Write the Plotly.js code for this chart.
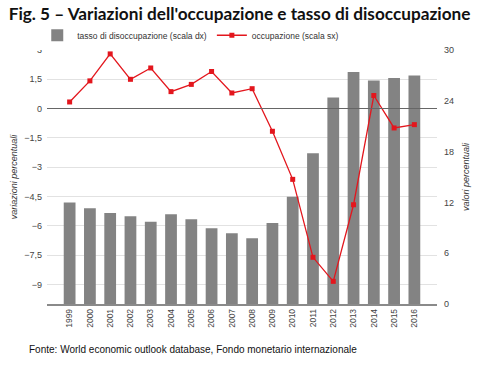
<!DOCTYPE html>
<html>
<head>
<meta charset="utf-8">
<script src="https://cdn.plot.ly/plotly-3.0.1.min.js"></script>
<style>html,body{margin:0;padding:0;background:#fff;}#chart{width:482px;height:368px;}</style>
</head>
<body>
<div id="chart"></div>
<script>
var years = ["1999","2000","2001","2002","2003","2004","2005","2006","2007","2008","2009","2010","2011","2012","2013","2014","2015","2016"];
var disoccupazione = [12.0,11.3,10.75,10.36,9.72,10.59,10.0,8.94,8.35,7.76,9.57,12.67,17.8,24.4,27.4,26.4,26.7,27.0];
var occupazione = [0.34,1.42,2.8,1.5,2.08,0.87,1.24,1.9,0.8,1.02,-1.16,-3.62,-7.61,-8.84,-4.92,0.67,-0.99,-0.82];
var leftTicks = [3,1.5,0,-1.5,-3,-4.5,-6,-7.5,-9];
var rightTicks = [0,6,12,18,24,30];

var tickFont = {family:"Liberation Sans, Arial, sans-serif", size:9, color:"#444"};
var titleFont = {family:"Liberation Sans, Arial, sans-serif", size:9, color:"#333"};

var traces = [
  {type:"bar", x:years, y:disoccupazione, name:"tasso di disoccupazione (scala dx)", yaxis:"y",
   marker:{color:"#838383"}, hoverinfo:"skip"},
  {type:"scatter", mode:"lines+markers", x:years, y:occupazione, name:"occupazione (scala sx)", yaxis:"y2",
   line:{color:"#e3161d", width:1.3}, marker:{symbol:"square", size:5, color:"#e3161d"}}
];

var layout = {
  width:482, height:368,
  margin:{l:47, r:45, t:50, b:64, autoexpand:false},
  paper_bgcolor:"#fff", plot_bgcolor:"#fff",
  separators:",.",
  bargap:0.42,
  showlegend:true,
  legend:{orientation:"h", x:-0.025, xanchor:"left", y:1.058, yanchor:"middle",
          font:{family:"Liberation Sans, Arial, sans-serif", size:8.5, color:"#333"},
          traceorder:"normal", tracegroupgap:0},
  title:{text:"<b>Fig. 5 – Variazioni dell'occupazione e tasso di disoccupazione</b>",
         x:0.018, xanchor:"left", xref:"container", y:0.962, yanchor:"middle", yref:"container",
         font:{family:"Lato, Open Sans, sans-serif", size:17.2, color:"#111"}},
  xaxis:{type:"category", tickangle:-90, tickfont:{family:"Liberation Sans, Arial, sans-serif", size:8.5, color:"#444"},
         showgrid:false, showline:true, linecolor:"#8a8a8a", linewidth:1.5, ticks:"", zeroline:false},
  yaxis:{range:[0,30], tickvals:rightTicks, side:"right", tickfont:tickFont,
         showgrid:false, zeroline:false, showline:false, ticks:"", ticklabelstandoff:6,
         title:{text:"<i>valori percentuali</i>", standoff:9, font:titleFont}},
  yaxis2:{range:[-10,3], tickvals:leftTicks, overlaying:"y", side:"left", tickfont:tickFont,
          showgrid:true, gridcolor:"#e2e2e2",
          zeroline:true, zerolinecolor:"#666", zerolinewidth:1.3, zerolinelayer:"above traces",
          showline:false, ticks:"", ticklabelstandoff:4,
          title:{text:"<i>variazioni percentuali</i>", standoff:5, font:titleFont}},
  annotations:[{text:"Fonte: World economic outlook database, Fondo monetario internazionale",
                xref:"paper", yref:"paper", x:-0.052, y:-0.18, xanchor:"left", yanchor:"middle",
                showarrow:false, font:{family:"Liberation Sans, Arial, sans-serif", size:10, color:"#111"}}]
};

Plotly.newPlot("chart", traces, layout, {displayModeBar:false, staticPlot:true});
</script>
</body>
</html>
